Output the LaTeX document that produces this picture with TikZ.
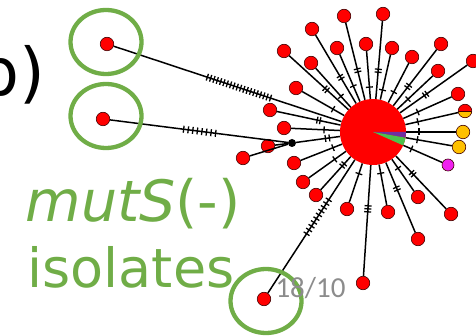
\documentclass[tikz,border=0pt]{standalone}
\usepackage{fontspec}
\setmainfont{DejaVu Sans}
\newfontfamily\slidefont{Carlito}
\usetikzlibrary{calc,shapes.geometric}

\definecolor{ringgreen}{HTML}{70AD47}
\definecolor{hapyellow}{HTML}{FFC000}
\definecolor{happurple}{HTML}{7030A0}
\definecolor{hapgreen}{HTML}{4CC24C}
\definecolor{hapmagenta}{HTML}{F020F0}

% short cross marks along a spoke: from, to, count, first distance, spacing
\newcommand\hashmarks[5]{%
  \foreach \k [evaluate=\k as \dd using #4+(\k-1)*#5] in {1,...,#3}
    \draw[hashmark] ($(#1)!\dd pt!(#2)!3.5pt!90:(#2)$) -- ($(#1)!\dd pt!(#2)!3.5pt!-90:(#2)$);
}

\begin{document}
\begin{tikzpicture}[x=1pt, y=-1pt,
  hap/.style={circle, draw=black!75!red, line width=0.6pt, fill=red, minimum size=13.5pt, inner sep=0pt},
  spoke/.style={line width=1.5pt},
  hashmark/.style={line width=1.3pt},
  ring/.style={ellipse, draw=ringgreen, line width=4.3pt, minimum width=71pt, minimum height=64pt, inner sep=0pt}]
	\useasboundingbox (0,0) rectangle (476,336);
	% central haplotype
	\node[circle, fill=red, minimum size=66pt, inner sep=0pt] (hub) at (373,132) {};
	% outer haplotypes
	\node[hap] (n1)  at (344,16)  {};
	\node[hap] (n2)  at (383,14)  {};
	\node[hap] (n3)  at (312,29)  {};
	\node[hap] (n4)  at (284,51)  {};
	\node[hap] (n5)  at (337,48)  {};
	\node[hap] (n6)  at (366,44)  {};
	\node[hap] (n7)  at (392,48)  {};
	\node[hap] (n8)  at (441,44)  {};
	\node[hap] (n9)  at (412,57)  {};
	\node[hap] (n10) at (311,63)  {};
	\node[hap] (n11) at (438,71)  {};
	\node[hap] (n12) at (473,61)  {};
	\node[hap] (n13) at (296,88)  {};
	\node[hap] (n14) at (458,94)  {};
	\node[hap] (n15) at (270,110) {};
	\node[hap] (n16) at (284,128) {};
	\node[hap] (n17) at (294,163) {};
	\node[hap] (n18) at (303,182) {};
	\node[hap] (n19) at (316,195) {};
	\node[hap] (n20) at (347,209) {};
	\node[hap] (n21) at (388,212) {};
	\node[hap] (n22) at (418,197) {};
	\node[hap] (n23) at (451,214) {};
	\node[hap] (n24) at (418,239) {};
	\node[hap] (n25) at (363,283) {};
	\node[hap] (n26) at (268,146) {};
	\node[hap] (n27) at (243,158) {};
	\node[hap, path picture={\fill[hapyellow] (path picture bounding box.west) rectangle (path picture bounding box.south east);
	  \draw[black!75!red, line width=0.6pt] (path picture bounding box.west) -- (path picture bounding box.east);}] (m1) at (465,111) {};
	\node[hap, fill=hapyellow] (y1) at (463,132) {};
	\node[hap, fill=hapyellow] (y2) at (459,147) {};
	\node[hap, fill=hapmagenta, minimum size=12pt] (p1) at (448,165) {};
	\node[circle, fill=black, minimum size=8pt, inner sep=0pt] (j1) at (292,143) {};
	% mutS(-) isolates
	\node[hap] (iso1) at (107,44)  {};
	\node[hap] (iso2) at (103,119) {};
	\node[hap] (iso3) at (264,299) {};
	% spokes from the hub
	\foreach \t/\cnt/\d/\s in {n1/2/62/3, n2/2/60/3, n3/2/62/3, n4/2/62/3, n5/1/50/3, n6/1/45/3,
	  n7/1/43/3, n8/2/56/3, n9/1/45/3, n10/1/48/3, n11/1/48/3, n12/2/63/3, n13/1/46/3, n14/1/49/3,
	  n15/2/54/3, n16/1/49/3, m1/1/46/3, y1/1/46/3, y2/1/45/3, p1/1/42/3, n17/1/43/3, n18/1/47/3,
	  n19/2/43/3, n20/1/44/3, n21/1/42/3, n22/1/44/3, n23/2/56/3, n24/2/60/3, n25/3/74/3,
	  iso3/10/81/4.5, iso1/20/108/3.5, j1/2/44/4}{
	  \draw[spoke] (hub) -- (\t);
	  \hashmarks{hub}{\t}{\cnt}{\d}{\s}
	}
	% branches of the median vector
	\draw[spoke] (j1) -- (iso2);
	\hashmarks{j1}{iso2}{8}{77}{4.6}
	\draw[spoke] (j1) -- (n26);
	\draw[spoke] (j1) -- (n27);
	% pie slices of the hub
	\fill[happurple] (hub.center) -- ++(0:33pt) arc[start angle=0, end angle=-10, radius=33pt] -- cycle;
	\fill[hapgreen] (hub.center) -- ++(-10:33pt) arc[start angle=-10, end angle=-24, radius=33pt] -- cycle;
	% rings
	\node[ring] (r1) at (106,42)  {};
	\node[ring] (r2) at (106,116) {};
	\node[ring] (r3) at (266,301) {};
	% labels
	\node[anchor=base east, font=\fontsize{66}{66}\selectfont] (tag) at (49,96) {b)};
	\node[anchor=base west, text=ringgreen, font=\fontsize{57}{57}\selectfont] (mut) at (22,222) {\textit{mutS}(-)};
	\node[anchor=base west, text=ringgreen, font=\fontsize{54}{54}\selectfont] (iso) at (24,288) {isolates};
	\node[anchor=base west, text=black!45, font=\slidefont\fontsize{29}{29}\selectfont] (num) at (272,298) {18/10};
\end{tikzpicture}
\end{document}
